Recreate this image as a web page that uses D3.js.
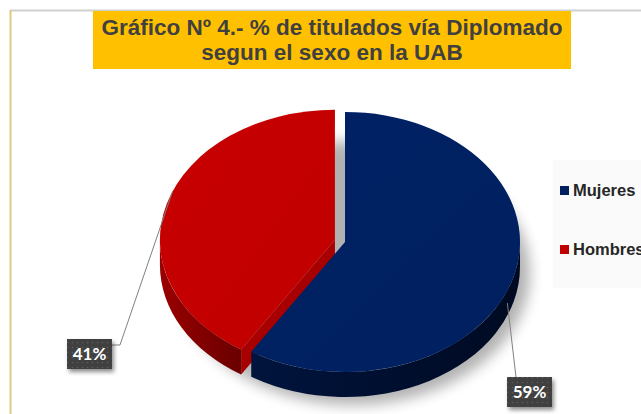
<!DOCTYPE html>
<html lang="es">
<head>
<meta charset="utf-8">
<title>Gráfico Nº 4</title>
<script src="https://d3js.org/d3.v7.min.js"></script>
<style>
  body { margin: 0; background: #fff; }
</style>
</head>
<body>
<script>
var w = 641, h = 414;

// data
var categories = ["Mujeres", "Hombres"];
var values = [59, 41];
var labelText = ["59%", "41%"];
var titleLines = ["Gráfico Nº 4.- % de titulados vía Diplomado", "segun el sexo en la UAB"];

// layout
var cx = 345, cy = 242, rx = 175, ry = 130, depth = 25;
var explode = [0, 10.5];
var boxes = [{x: 507, y: 377}, {x: 67, y: 339}];
var boxW = 45, boxH = 30;

var topColor = d3.scaleOrdinal().domain(categories).range(["#002060", "#c00000"]);
var wallLight = d3.scaleOrdinal().domain(categories).range(["#00143d", "#9a0000"]);
var wallDark = d3.scaleOrdinal().domain(categories).range(["#000a22", "#6a0000"]);
var faceColor = d3.scaleOrdinal().domain(categories).range(["#001540", "#a80000"]);

var svg = d3.select("body").append("svg")
    .attr("width", w)
    .attr("height", h);

var defs = svg.append("defs");

defs.append("filter").attr("id", "pieShadow")
    .attr("x", "-30%").attr("y", "-30%").attr("width", "160%").attr("height", "160%")
  .append("feGaussianBlur").attr("stdDeviation", 7);

var bs = defs.append("filter").attr("id", "boxShadow")
    .attr("x", "-30%").attr("y", "-30%").attr("width", "160%").attr("height", "160%");
bs.append("feDropShadow").attr("dx", 2).attr("dy", 3).attr("stdDeviation", 2)
    .attr("flood-color", "#000").attr("flood-opacity", 0.45);

var pat = defs.append("pattern").attr("id", "dots")
    .attr("width", 5).attr("height", 5).attr("patternUnits", "userSpaceOnUse");
pat.append("rect").attr("width", 5).attr("height", 5).attr("fill", "#3f3f3f");
pat.append("circle").attr("cx", 2.5).attr("cy", 2.5).attr("r", 0.8).attr("fill", "#5c5c5c");

categories.forEach(function(c, i) {
  var g = defs.append("linearGradient").attr("id", "wall" + i)
      .attr("x1", "0%").attr("x2", "100%").attr("y1", "0%").attr("y2", "0%");
  g.append("stop").attr("offset", "0%").attr("stop-color", wallLight(c));
  g.append("stop").attr("offset", "100%").attr("stop-color", wallDark(c));
  var t = defs.append("linearGradient").attr("id", "top" + i)
      .attr("x1", "0%").attr("x2", "100%").attr("y1", "0%").attr("y2", "100%");
  t.append("stop").attr("offset", "0%").attr("stop-color", d3.color(topColor(c)).brighter(0.12));
  t.append("stop").attr("offset", "100%").attr("stop-color", topColor(c));
});

// frame
svg.append("line").attr("x1", 10).attr("x2", w).attr("y1", 10.5).attr("y2", 10.5)
    .attr("stroke", "#d0d0d0").attr("stroke-width", 2);
svg.append("line").attr("x1", 10.5).attr("x2", 10.5).attr("y1", 10).attr("y2", h)
    .attr("stroke", "#dfcb80").attr("stroke-width", 2);

// title
svg.append("rect").attr("x", 93).attr("y", 11).attr("width", 478).attr("height", 58)
    .attr("fill", "#ffc000");
svg.selectAll("text.title")
   .data(titleLines)
   .enter()
   .append("text")
   .attr("class", "title")
   .attr("x", 332)
   .attr("y", function(d, i) { return 35 + i * 25; })
   .attr("text-anchor", "middle")
   .attr("font-family", "Liberation Sans, Arial, sans-serif")
   .attr("font-weight", "bold")
   .attr("font-size", "22.5px")
   .attr("fill", "#404040")
   .text(function(d) { return d; });

// pie
var pie = d3.pie().sort(null).value(function(d) { return d; });
var arcs = pie(values);
arcs.forEach(function(a, i) {
  var mid = (a.startAngle + a.endAngle) / 2;
  a.cat = categories[i];
  a.idx = i;
  a.mid = mid;
  a.ox = cx + explode[i] * Math.sin(mid);
  a.oy = cy - explode[i] * Math.cos(mid) * ry / rx;
});

function pt(a, ang) {
  return [a.ox + rx * Math.sin(ang), a.oy - ry * Math.cos(ang)];
}

function wallPath(a) {
  var s = Math.max(a.startAngle, Math.PI / 2), e = Math.min(a.endAngle, 1.5 * Math.PI);
  if (e <= s) return null;
  var p0 = pt(a, s), p1 = pt(a, e);
  var large = (e - s) > Math.PI ? 1 : 0;
  return "M" + p0 + "A" + rx + "," + ry + " 0 " + large + " 1 " + p1 +
         "L" + p1[0] + "," + (p1[1] + depth) +
         "A" + rx + "," + ry + " 0 " + large + " 0 " + p0[0] + "," + (p0[1] + depth) + "Z";
}

function facePath(a, ang) {
  var p = pt(a, ang);
  return "M" + a.ox + "," + a.oy + "L" + p + "L" + p[0] + "," + (p[1] + depth) +
         "L" + a.ox + "," + (a.oy + depth) + "Z";
}

// soft shadow under the pie
svg.append("ellipse")
   .attr("cx", cx + 8).attr("cy", cy + depth + 6)
   .attr("rx", rx + 2).attr("ry", ry + 2)
   .attr("fill", "#000").attr("opacity", 0.3)
   .attr("filter", "url(#pieShadow)");

var topArc = d3.arc().innerRadius(0).outerRadius(rx);

arcs.slice().reverse().forEach(function(a) {
  var g = svg.append("g");
  if (Math.sin(a.startAngle) < -1e-6) {
    g.append("path").attr("d", facePath(a, a.startAngle)).attr("fill", faceColor(a.cat));
  }
  if (Math.sin(a.endAngle) > 1e-6) {
    g.append("path").attr("d", facePath(a, a.endAngle)).attr("fill", faceColor(a.cat));
  }
  var wp = wallPath(a);
  if (wp) g.append("path").attr("d", wp).attr("fill", "url(#wall" + a.idx + ")");
  g.append("path")
   .attr("transform", "translate(" + a.ox + "," + a.oy + ") scale(1," + (ry / rx) + ")")
   .attr("d", topArc(a))
   .attr("fill", "url(#top" + a.idx + ")");
});

// leader lines and labels
arcs.forEach(function(a, i) {
  var ang = a.mid + (Math.cos(a.mid) < 0 ? 0.1 : 0.1);
  var p = pt(a, ang);
  if (Math.cos(ang) < 0) p[1] += depth / 2;
  var b = boxes[i];
  var pts;
  if (b.x + boxW < p[0] - 20) {
    pts = [p, [b.x + boxW + 8, b.y + 6], [b.x + boxW, b.y + 6]];
  } else {
    pts = [p, [b.x + 9, b.y]];
  }
  svg.append("path")
     .attr("d", d3.line()(pts))
     .attr("fill", "none")
     .attr("stroke", "#808080")
     .attr("stroke-width", 1);
  svg.append("rect")
     .attr("x", b.x).attr("y", b.y).attr("width", boxW).attr("height", boxH)
     .attr("fill", "url(#dots)")
     .attr("filter", "url(#boxShadow)");
  svg.append("text")
     .attr("x", b.x + boxW / 2).attr("y", b.y + 21)
     .attr("text-anchor", "middle")
     .attr("font-family", "Lato, sans-serif")
     .attr("font-weight", "bold")
     .attr("font-size", "17px")
     .attr("fill", "#fff")
     .text(labelText[i]);
});

// legend
svg.append("rect").attr("x", 553).attr("y", 160).attr("width", 90).attr("height", 128)
    .attr("fill", "#fafafa");
var leg = svg.selectAll("g.leg")
   .data(categories)
   .enter()
   .append("g")
   .attr("class", "leg")
   .attr("transform", function(d, i) { return "translate(560," + (196 + i * 59) + ")"; });
leg.append("rect")
   .attr("x", 0).attr("y", -10).attr("width", 9).attr("height", 9)
   .attr("fill", function(d) { return topColor(d); });
leg.append("text")
   .attr("x", 13).attr("y", 0)
   .attr("font-family", "Liberation Sans, Arial, sans-serif")
   .attr("font-weight", "bold")
   .attr("font-size", "16.5px")
   .attr("fill", "#262626")
   .text(function(d) { return d; });
</script>
</body>
</html>
